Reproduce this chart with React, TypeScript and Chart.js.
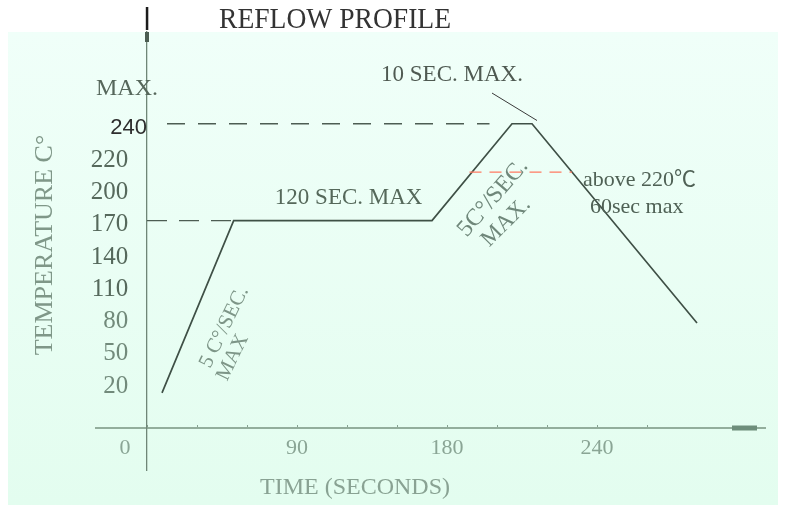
import { useEffect, useRef } from "react";
import { Chart, registerables } from "chart.js";

Chart.register(...registerables);

// ---- Schematic axes (the reference is drawn not-to-scale: each tick mark is one step) ----
const timeTickLabels = ["0", "90", "180", "240"];
const timeTickValues = [0, 90, 180, 240]; // seconds
const timeTickSteps = [0, 3, 6, 9]; // tick-mark index carrying each label
const timeTickMarkCount = 10;

const tempTickLabels = ["20", "50", "80", "110", "140", "170", "200", "220", "240"];
const tempTickValues = [20, 50, 80, 110, 140, 170, 200, 220, 240]; // °C

// ---- Reflow profile ----
const profileTime = [9, 52, 171, 206, 214, 280];
const profileTemp = [10, 170, 170, 240, 240, 75];

// guide lines
const peakGuideTime = [12, 197];
const peakGuideTemp = [240, 240];
const soakGuideTime = [0, 52];
const soakGuideTemp = [170, 170];
const liquidusGuideTime = [189, 230];
const liquidusGuideTemp = [210, 210];
const leaderTime = [198, 216];
const leaderTemp = [259, 242];

const titleText = "REFLOW PROFILE";
const xTitle = "TIME (SECONDS)";
const yTitle = "TEMPERATURE C°";

type Note = {
  text: string;
  t: number;
  c: number;
  size: number;
  color: string;
  rot?: number;
  align?: CanvasTextAlign;
};

const notes: Note[] = [
  { text: "MAX.", t: -12, c: 262, size: 24, color: "#56675b" },
  { text: "10 SEC. MAX.", t: 182, c: 270, size: 23, color: "#4f5a52" },
  { text: "120 SEC. MAX", t: 121, c: 191, size: 23, color: "#55685a" },
  { text: "above 220℃", t: 234.4, c: 205, size: 22, color: "#4f6155", align: "left" },
  { text: "60sec max", t: 237.2, c: 182.6, size: 22, color: "#4f6155", align: "left" },
  { text: "5 C°/SEC.", t: 46.4, c: 71, size: 21, color: "#7d9587", rot: -64 },
  { text: "MAX", t: 51.4, c: 43, size: 21, color: "#7d9587", rot: -64 },
  { text: "5C°/SEC.", t: 198.4, c: 191, size: 24, color: "#6f877a", rot: -49 },
  { text: "MAX.", t: 203.6, c: 168.6, size: 23, color: "#6f877a", rot: -45 },
];

function piecewise(v: number, values: number[], steps: number[]): number {
  const n = values.length;
  let i = 0;
  if (v >= values[n - 1]) i = n - 2;
  else if (v > values[0]) {
    while (i < n - 2 && v > values[i + 1]) i++;
  }
  const t = (v - values[i]) / (values[i + 1] - values[i]);
  return steps[i] + t * (steps[i + 1] - steps[i]);
}

const tempSteps = tempTickValues.map((_, i) => i);
const toX = (t: number) => piecewise(t, timeTickValues, timeTickSteps);
const toY = (c: number) => piecewise(c, tempTickValues, tempSteps);
const pts = (ts: number[], cs: number[]) => ts.map((t, i) => ({ x: toX(t), y: toY(cs[i]) }));

const W = 792;
const H = 506;
const SERIF = '"Liberation Serif", "Times New Roman", "Noto Sans CJK SC", serif';
const SANS = '"Liberation Sans", Arial, sans-serif';

export default function App() {
  const ref = useRef<HTMLCanvasElement>(null);

  useEffect(() => {
    const canvas = ref.current;
    if (!canvas) return;

    const X_AXIS_AT = -1.42; // y-position (in axis steps) where the time axis crosses

    const decor = {
      id: "decor",
      beforeDraw(chart: any) {
        const ctx = chart.ctx as CanvasRenderingContext2D;
        ctx.save();
        ctx.fillStyle = "#ffffff";
        ctx.fillRect(0, 0, W, H);
        // title (partly hidden in the reference)
        ctx.save();
        ctx.beginPath();
        ctx.rect(0, 0, W, 28);
        ctx.clip();
        ctx.fillStyle = "#333333";
        ctx.font = `30px ${SERIF}`;
        ctx.textAlign = "center";
        ctx.textBaseline = "alphabetic";
        ctx.fillText(titleText, 335, 28, 232);
        ctx.restore();
        // mint panel
        const g = ctx.createLinearGradient(0, 32, 0, 505);
        g.addColorStop(0, "#f0fff9");
        g.addColorStop(1, "#e3fdef");
        ctx.fillStyle = g;
        ctx.fillRect(8, 32, 770, 473);
        ctx.restore();
      },
      afterDraw(chart: any) {
        const ctx = chart.ctx as CanvasRenderingContext2D;
        const xs = chart.scales.x;
        const ys = chart.scales.y;
        const area = chart.chartArea;
        ctx.save();
        // axis end marks
        const axisY = ys.getPixelForValue(X_AXIS_AT);
        const axisX = xs.getPixelForValue(0);
        ctx.fillStyle = "#6e8e7b";
        ctx.fillRect(area.right - 33, axisY - 2.5, 25, 5);
        ctx.fillStyle = "#4c5d52";
        ctx.fillRect(axisX - 2, area.top, 4, 10);
        ctx.fillStyle = "#1c1c1c";
        ctx.fillRect(axisX - 1.2, 7, 2.5, 23);
        // notes
        for (const n of notes) {
          const px = xs.getPixelForValue(toX(n.t));
          const py = ys.getPixelForValue(toY(n.c));
          ctx.save();
          ctx.translate(px, py);
          if (n.rot) ctx.rotate((n.rot * Math.PI) / 180);
          ctx.font = `${n.size}px ${SERIF}`;
          ctx.fillStyle = n.color;
          ctx.textAlign = n.align || "center";
          ctx.textBaseline = "middle";
          ctx.fillText(n.text, 0, 0);
          ctx.restore();
        }
        // axis titles
        ctx.fillStyle = "#7f9788";
        ctx.font = `26px ${SERIF}`;
        ctx.textAlign = "center";
        ctx.textBaseline = "middle";
        ctx.save();
        ctx.translate(45, 245);
        ctx.rotate(-Math.PI / 2);
        ctx.fillText(yTitle, 0, 0);
        ctx.restore();
        ctx.fillStyle = "#89a293";
        ctx.font = `24px ${SERIF}`;
        ctx.fillText(xTitle, 355, 488);
        ctx.restore();
      },
    };

    const line = (data: { x: number; y: number }[], color: string, width: number, dash: number[] = []) => ({
      data,
      borderColor: color,
      borderWidth: width,
      borderDash: dash,
      pointRadius: 0,
      tension: 0,
      fill: false,
    });

    const chart = new Chart(canvas, {
      type: "line",
      data: {
        datasets: [
          line(pts(soakGuideTime, soakGuideTemp), "#4d5d53", 1.3, [20, 12]),
          line(pts(peakGuideTime, peakGuideTemp), "#4d5d53", 1.3, [18, 13]),
          line(pts(liquidusGuideTime, liquidusGuideTemp), "#ff7a62", 1.2, [12, 8]),
          line(pts(leaderTime, leaderTemp), "#3a3a3a", 1),
          line(pts(profileTime, profileTemp), "#3f5046", 1.7),
        ] as any,
      },
      plugins: [decor as any],
      options: {
        responsive: false,
        animation: false,
        layout: { padding: { left: 96, right: 27, top: 32, bottom: 36 } },
        plugins: {
          legend: { display: false },
          tooltip: { enabled: false },
          title: { display: false },
        },
        scales: {
          x: {
            type: "linear",
            position: { y: X_AXIS_AT } as any,
            min: -1.02,
            max: 12.36,
            afterBuildTicks: (s: any) => {
              const marks = [];
              for (let i = 0; i <= timeTickMarkCount; i++) marks.push({ value: i });
              s.ticks = marks;
            },
            grid: {
              drawOnChartArea: false,
              drawTicks: true,
              tickLength: -4,
              tickColor: "#86a391",
              tickWidth: 1,
            },
            border: { color: "#93ae9c", width: 2 },
            ticks: {
              autoSkip: false,
              maxRotation: 0,
              padding: 11,
              color: "#8aa595",
              font: { family: SERIF, size: 22 },
              callback: (value: any) => {
                const i = timeTickSteps.indexOf(Number(value));
                if (i < 0) return "";
                return timeTickLabels[i] + (Number(value) === 0 ? "\u2007\u2007\u2007\u2007" : "");
              },
            },
          },
          y: {
            type: "linear",
            position: { x: 0 } as any,
            min: -2.72,
            max: 10.84,
            afterBuildTicks: (s: any) => {
              s.ticks = tempSteps.map((v) => ({ value: v }));
            },
            grid: { drawOnChartArea: false, drawTicks: false },
            border: { color: "#6f8677", width: 1.3 },
            ticks: {
              autoSkip: false,
              labelOffset: 4,
              color: (c: any) => (c.tick && c.tick.value === 8 ? "#2e2e2e" : c.tick && c.tick.value <= 2 ? "#728a7b" : "#56695c"),
              font: (c: any) =>
                c.tick && c.tick.value === 8 ? { family: SANS, size: 22 } : { family: SERIF, size: 25 },
              callback: (value: any) => {
                const i = tempSteps.indexOf(Number(value));
                if (i < 0) return "";
                // trailing spaces keep the serif labels clear of the axis line, as in the reference
                return tempTickLabels[i] + (i === tempSteps.length - 1 ? "" : "   ");
              },
            },
          },
        },
      } as any,
    });

    return () => chart.destroy();
  }, []);

  return (
    <div style={{ position: "absolute", left: 0, top: 0, width: W, height: H, background: "#fff" }}>
      <canvas ref={ref} width={W} height={H} style={{ display: "block", width: W, height: H }} />
    </div>
  );
}
